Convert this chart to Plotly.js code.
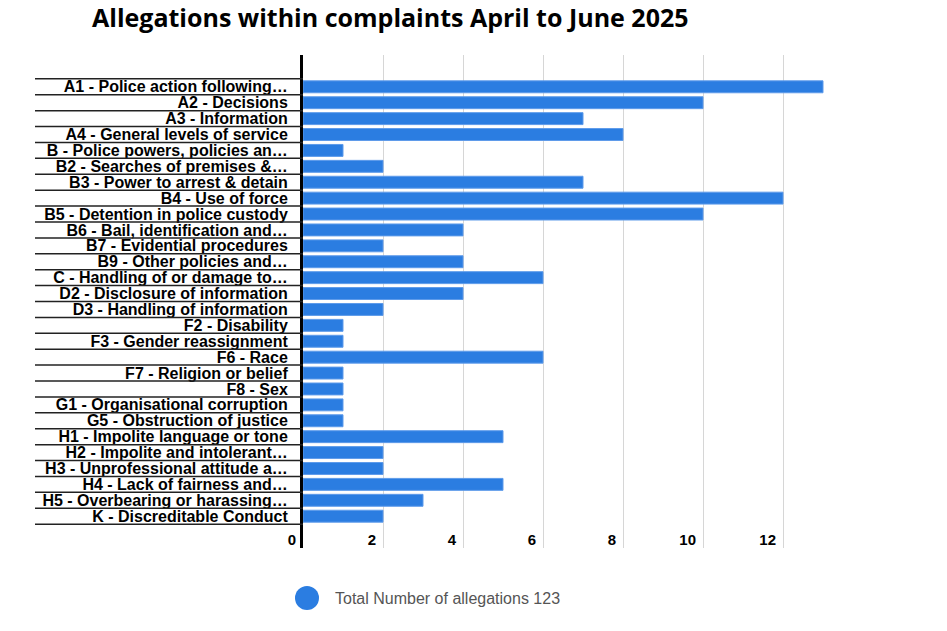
<!DOCTYPE html>
<html>
<head>
<meta charset="utf-8">
<script src="https://cdn.plot.ly/plotly-3.0.1.min.js"></script>
<style>html,body{margin:0;padding:0;background:#fff;}#chart{width:947px;height:631px;}</style>
</head>
<body>
<div id="chart"></div>
<script>
var categories = [
  "A1 - Police action following…",
  "A2 - Decisions",
  "A3 - Information",
  "A4 - General levels of service",
  "B - Police powers, policies an…",
  "B2 - Searches of premises &…",
  "B3 - Power to arrest & detain",
  "B4 - Use of force",
  "B5 - Detention in police custody",
  "B6 - Bail, identification and…",
  "B7 - Evidential procedures",
  "B9 - Other policies and…",
  "C - Handling of or damage to…",
  "D2 - Disclosure of information",
  "D3 - Handling of information",
  "F2 - Disability",
  "F3 - Gender reassignment",
  "F6 - Race",
  "F7 - Religion or belief",
  "F8 - Sex",
  "G1 - Organisational corruption",
  "G5 - Obstruction of justice",
  "H1 - Impolite language or tone",
  "H2 - Impolite and intolerant…",
  "H3 - Unprofessional attitude a…",
  "H4 - Lack of fairness and…",
  "H5 - Overbearing or harassing…",
  "K - Discreditable Conduct"
];
var allegations = [13, 10, 7, 8, 1, 2, 7, 12, 10, 4, 2, 4, 6, 4, 2, 1, 1, 6, 1, 1, 1, 1, 5, 2, 2, 5, 3, 2];
var xTicks = [0, 2, 4, 6, 8, 10, 12];
var seriesName = "Total Number of allegations";
var chartTitle = "Allegations within complaints April to June 2025";

var total = allegations.reduce(function(a, b){ return a + b; }, 0);

var W = 947, H = 631, ML = 303, MR = 117, MT = 55, MB = 83;
var PW = W - ML - MR, PH = H - MT - MB;
function px2paperX(px){ return (px - ML) / PW; }
function px2paperY(py){ return (H - MB - py) / PH; }

var shapes = [];
for (var i = 0; i <= categories.length; i++) {
  shapes.push({
    type: "line", xref: "paper", yref: "y",
    x0: px2paperX(35), x1: 0, y0: i - 0.5, y1: i - 0.5,
    line: {color: "#222", width: 1.5}
  });
}
// legend marker
shapes.push({
  type: "circle", xref: "paper", yref: "paper",
  x0: px2paperX(295), x1: px2paperX(319),
  y0: px2paperY(610), y1: px2paperY(586),
  fillcolor: "#2b7de1", line: {width: 0}
});

var trace = {
  type: "bar",
  orientation: "h",
  y: categories,
  x: allegations,
  name: seriesName,
  marker: {color: "#2b7de1", line: {color: "#5e9bea", width: 1}},
  showlegend: false,
  hoverinfo: "x+y"
};

var layout = {
  width: W, height: H,
  margin: {l: ML, r: MR, t: MT, b: MB, pad: 0},
  paper_bgcolor: "#fff", plot_bgcolor: "#fff",
  title: {
    text: "<b>" + chartTitle + "</b>",
    x: 92 / W, xanchor: "left", xref: "container",
    y: 1 - 18 / H, yanchor: "middle", yref: "container",
    font: {family: "Open Sans, Lato, Arial, sans-serif", size: 25, color: "#000"}
  },
  bargap: 0.25,
  xaxis: {
    range: [0, 13.175],
    tickvals: xTicks,
    ticktext: xTicks.map(String),
    ticks: "",
    showline: false,
    zeroline: false,
    showgrid: true,
    gridcolor: "#d6d6d6",
    gridwidth: 1,
    ticklabelposition: "outside left",
    ticklabelstandoff: -19,
    ticklabelshift: -7,
    tickfont: {family: "Arial, Liberation Sans, sans-serif", size: 15, color: "#000", weight: "bold"},
    fixedrange: true
  },
  yaxis: {
    type: "category",
    range: [29, -2],
    tickmode: "linear",
    tick0: 0,
    dtick: 1,
    ticks: "",
    showgrid: false,
    zeroline: false,
    showline: true,
    linecolor: "#000",
    linewidth: 3,
    ticklabelstandoff: 9,
    tickfont: {family: "Arial, Liberation Sans, sans-serif", size: 16, color: "#000", weight: "bold"},
    fixedrange: true
  },
  shapes: shapes,
  annotations: [{
    xref: "paper", yref: "paper",
    x: px2paperX(333), y: px2paperY(598),
    xanchor: "left", yanchor: "middle",
    text: seriesName + " " + total,
    showarrow: false,
    font: {family: "Arial, Liberation Sans, sans-serif", size: 16, color: "#555"}
  }],
  showlegend: false
};

Plotly.newPlot("chart", [trace], layout, {displayModeBar: false, staticPlot: true});
</script>
</body>
</html>
